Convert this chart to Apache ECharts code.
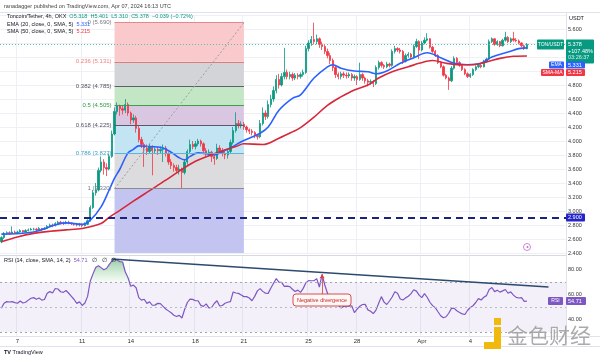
<!DOCTYPE html>
<html><head><meta charset="utf-8">
<script src="https://cdn.jsdelivr.net/npm/echarts@6/dist/echarts.min.js"></script>
<style>html,body{margin:0;padding:0;background:#fff}#c{width:600px;height:359px}</style>
</head><body><div id="c"></div>
<script>
// ---------- data ----------
const startUTC = Date.UTC(2024, 2, 6, 0, 0);   // first 4h candle: Mar 6 00:00 UTC
const slotCount = 210;                          // candle slots incl. right-side empty space
const tickDays = ['2024-03-07','2024-03-11','2024-03-14','2024-03-18','2024-03-21','2024-03-25','2024-03-28','2024-04-01','2024-04-04'];
const tickLabels = ['7','11','14','18','21','25','28','Apr','4'];

const opens = [
2.56,2.62,2.68,2.69,2.68,2.70,2.69,2.70,2.72,2.70,
2.72,2.73,2.74,2.74,2.73,2.75,2.74,2.75,2.78,2.80,
2.79,2.82,2.84,2.83,2.82,2.84,2.83,2.82,2.81,2.80,
2.81,2.79,2.81,2.86,3.05,3.26,3.30,3.58,3.70,3.62,
3.60,3.78,4.10,4.42,4.50,4.46,4.44,4.52,4.40,4.30,
4.33,4.18,4.02,3.95,3.90,3.85,3.92,3.86,3.88,3.86,
3.88,3.90,3.82,3.70,3.65,3.62,3.58,3.60,3.55,3.70,
3.85,3.95,3.92,3.96,4.00,3.96,3.86,3.82,3.84,3.78,
3.75,3.90,3.86,3.82,3.80,3.85,3.98,4.15,4.25,4.22,
4.24,4.20,4.16,4.14,4.12,4.08,4.06,4.25,4.40,4.35,
4.52,4.60,4.72,4.88,4.80,4.92,4.98,4.92,4.95,4.90,
4.94,4.92,4.95,4.98,5.32,5.40,5.45,5.42,5.46,5.38,
5.35,5.28,5.22,5.15,5.05,4.95,4.92,4.96,4.94,4.93,
4.95,4.90,4.92,4.88,4.95,4.90,4.86,4.84,4.85,4.82,
5.05,5.12,5.08,5.06,5.10,5.08,5.28,5.32,5.30,5.28,
5.14,5.22,5.24,5.20,5.35,5.42,5.30,5.40,5.44,5.46,
5.34,5.28,5.22,5.12,5.06,4.94,4.90,4.86,5.04,5.18,
5.12,5.08,5.02,4.96,4.92,4.95,5.02,5.06,5.08,5.06,
5.14,5.17,5.42,5.46,5.38,5.42,5.36,5.44,5.48,5.42,
5.46,5.44,5.43,5.40,5.36,5.318];
const closes = [
2.62,2.68,2.69,2.68,2.70,2.69,2.70,2.72,2.70,2.72,
2.73,2.74,2.74,2.73,2.75,2.74,2.75,2.78,2.80,2.79,
2.82,2.84,2.83,2.82,2.84,2.83,2.82,2.81,2.80,2.81,
2.79,2.81,2.86,3.05,3.26,3.30,3.58,3.70,3.62,3.60,
3.78,4.10,4.42,4.50,4.46,4.44,4.52,4.40,4.30,4.33,
4.18,4.02,3.95,3.90,3.85,3.92,3.86,3.88,3.86,3.88,
3.90,3.82,3.70,3.65,3.62,3.58,3.60,3.55,3.70,3.85,
3.95,3.92,3.96,4.00,3.96,3.86,3.82,3.84,3.78,3.75,
3.90,3.86,3.82,3.80,3.85,3.98,4.15,4.25,4.22,4.24,
4.20,4.16,4.14,4.12,4.08,4.06,4.25,4.40,4.35,4.52,
4.60,4.72,4.88,4.80,4.92,4.98,4.92,4.95,4.90,4.94,
4.92,4.95,4.98,5.32,5.40,5.45,5.42,5.46,5.38,5.35,
5.28,5.22,5.15,5.05,4.95,4.92,4.96,4.94,4.93,4.95,
4.90,4.92,4.88,4.95,4.90,4.86,4.84,4.85,4.82,5.05,
5.12,5.08,5.06,5.10,5.08,5.28,5.32,5.30,5.28,5.14,
5.22,5.24,5.20,5.35,5.42,5.30,5.40,5.44,5.46,5.34,
5.28,5.22,5.12,5.06,4.94,4.90,4.86,5.04,5.18,5.12,
5.08,5.02,4.96,4.92,4.95,5.02,5.06,5.08,5.06,5.14,
5.17,5.42,5.46,5.38,5.42,5.36,5.44,5.48,5.42,5.46,
5.44,5.43,5.40,5.36,5.32,5.378];
const highs = [
2.64,2.70,2.71,2.71,2.78,2.72,2.72,2.74,2.73,2.74,
2.75,2.76,2.76,2.76,2.77,2.76,2.77,2.80,2.82,2.82,
2.84,2.86,2.86,2.85,2.86,2.86,2.84,2.83,2.83,2.83,
2.82,2.84,2.88,3.08,3.30,3.40,3.62,3.78,3.74,3.68,
3.82,4.15,4.48,4.55,4.52,4.50,4.60,4.55,4.42,4.38,
4.36,4.22,4.06,3.98,3.95,3.96,3.94,3.93,3.92,3.92,
3.95,3.93,3.84,3.74,3.68,3.66,3.66,3.62,3.74,3.88,
4.02,4.00,4.00,4.03,4.02,3.98,3.90,3.88,3.86,3.80,
3.96,3.94,3.90,3.86,3.88,4.02,4.20,4.41,4.30,4.28,
4.27,4.22,4.18,4.17,4.14,4.10,4.30,4.48,4.44,4.58,
4.66,4.78,4.94,4.96,4.97,5.33,5.02,4.99,4.98,4.97,
4.97,4.98,5.02,5.36,5.44,5.50,5.69,5.52,5.48,5.42,
5.38,5.32,5.26,5.18,5.08,4.98,4.99,4.99,4.98,4.98,
4.97,4.95,4.94,5.12,4.97,4.92,4.89,4.88,4.87,5.08,
5.15,5.14,5.10,5.13,5.12,5.31,5.36,5.34,5.33,5.30,
5.25,5.27,5.26,5.38,5.46,5.44,5.43,5.48,5.54,5.47,
5.36,5.30,5.24,5.14,5.08,4.96,4.92,5.07,5.21,5.20,
5.14,5.10,5.04,4.98,4.97,5.04,5.08,5.11,5.10,5.16,
5.19,5.45,5.48,5.47,5.44,5.43,5.46,5.56,5.50,5.48,
5.56,5.47,5.45,5.41,5.38,5.401];
const lows = [
2.54,2.60,2.66,2.66,2.67,2.68,2.68,2.69,2.69,2.69,
2.71,2.72,2.72,2.71,2.72,2.72,2.73,2.74,2.77,2.77,
2.78,2.81,2.81,2.80,2.81,2.81,2.80,2.79,2.78,2.78,
2.77,2.78,2.80,2.85,3.03,3.22,3.28,3.55,3.52,3.50,
3.58,3.76,4.08,4.38,4.36,4.38,4.40,4.36,4.24,4.26,
4.12,3.98,3.90,3.63,3.80,3.82,3.51,3.82,3.80,3.82,
3.70,3.78,3.66,3.60,3.56,3.54,3.52,3.33,3.52,3.66,
3.82,3.88,3.88,3.93,3.92,3.82,3.78,3.78,3.70,3.66,
3.73,3.83,3.78,3.74,3.75,3.82,3.95,4.12,4.18,4.18,
4.16,4.12,4.10,4.08,4.04,4.02,4.04,4.22,4.30,4.32,
4.48,4.56,4.68,4.75,4.78,4.88,4.88,4.88,4.86,4.87,
4.88,4.89,4.92,4.96,5.28,5.36,5.38,5.38,5.33,5.30,
5.24,5.18,5.10,5.00,4.90,4.88,4.88,4.90,4.89,4.90,
4.86,4.86,4.80,4.86,4.86,4.82,4.78,4.80,4.77,4.80,
5.02,5.05,5.03,5.04,5.05,5.06,5.25,5.27,5.25,5.10,
5.12,5.19,5.17,5.18,5.33,5.17,5.28,5.38,5.42,5.32,
5.26,5.20,5.10,5.04,4.92,4.88,4.73,4.84,5.02,5.10,
5.06,5.00,4.94,4.90,4.90,4.93,5.00,5.04,5.04,5.05,
5.12,5.16,5.40,5.36,5.36,5.34,5.35,5.42,5.40,5.40,
5.42,5.41,5.38,5.34,5.30,5.310];

// EMA(20) and SMA(50): [candle index, value]
const emaPoints = [[0,2.67],[12,2.70],[24,2.83],[30,2.81],[33,2.87],[37,3.06],[40,3.30],[42,3.47],[44,3.60],[47,3.83],[49,3.88],[51,3.93],[55,3.92],[59,3.91],[63,3.84],[66,3.76],[68,3.73],[70,3.78],[73,3.83],[76,3.82],[79,3.80],[82,3.85],[85,3.90],[89,3.99],[92,4.04],[96,4.11],[99,4.20],[103,4.44],[108,4.61],[111,4.66],[116,4.90],[121,5.06],[123,5.09],[126,5.04],[131,5.00],[136,4.99],[139,4.96],[143,5.00],[148,5.11],[153,5.19],[158,5.26],[163,5.19],[168,5.11],[173,5.09],[178,5.11],[182,5.20],[188,5.27],[192,5.32],[195,5.331]];
const smaPoints = [[0,2.56],[6,2.63],[12,2.68],[18,2.71],[24,2.73],[30,2.75],[37,2.82],[40,2.91],[44,3.01],[49,3.14],[55,3.29],[61,3.44],[66,3.57],[72,3.71],[77,3.79],[82,3.86],[87,3.92],[90,3.96],[97,3.95],[103,4.04],[108,4.13],[111,4.19],[116,4.34],[121,4.51],[126,4.63],[131,4.73],[136,4.80],[140,4.90],[145,4.99],[151,5.06],[155,5.11],[160,5.15],[165,5.11],[170,5.09],[175,5.09],[180,5.13],[185,5.18],[190,5.21],[195,5.215]];

const rsiValues = [
49,53,54.3,54,54.3,53.5,53,54.8,53.2,53.8,
55.5,57,57.5,56.2,57.2,55.5,56,61,62.3,61.2,
64.8,64.4,62.2,61.7,63.2,61,58.5,56,52.9,54.1,
51.2,53.2,58.5,70.8,76.5,81.6,83,81.5,79.8,80.8,
83.9,86.8,88.1,87.4,86.3,86,78,73.4,66.6,67.5,
65.4,57.5,55.5,56.2,52.9,54.1,51.4,51.5,52.9,52.7,
50.5,48.4,46.9,45.4,43.4,42.4,43.3,41.2,48,53.6,
56.3,56.1,55,55,51.3,50.5,52.5,49.3,49.6,52.8,
55,50.8,51.2,53,53.8,54.3,62,61.2,60.9,59.6,
58.3,58.3,57.2,55,58.5,62.9,64.7,62.5,61,60.9,
65.2,69,72.7,69.9,69.7,66.5,66.7,66.3,64.2,62.4,
63.5,61.7,64.9,69.4,71.1,71,71,72.7,66,76,
67.6,61,56.4,53.7,52.6,51.5,49.3,50.4,50.9,50.7,
51,45.5,48.3,50.6,52,52.1,47.7,46.6,44.7,47.5,
53,58.3,53.9,52,54.8,58,62.2,61,56.4,55.6,
57.3,58.6,60.7,63.8,62.7,59.5,57.5,60.7,57.8,53.8,
51.1,49.5,46.2,43,41.4,42.2,45,48.9,48.9,47,
45.6,44.5,44,47.4,49.6,51,53.6,56.7,55.6,57.8,
59.1,64,65.6,62.3,63.4,61.9,62.9,64,61,62.1,
59.5,57.7,57.2,57.5,54.5,54.71];

const fibLevels = ['0','0.236','0.382','0.5','0.618','0.786','1'];
const fibPrices = [5.690,5.131,4.785,4.505,4.225,3.827,3.320];
const lastPrice = 5.378;
const supportLevel = 2.900;
const rsiLast = 54.71;

// ---------- styling ----------
const FONT = '"Liberation Sans", Arial, sans-serif';
const UP = '#089981', DOWN = '#f23645';
const fibFill = ['#f9c9cc','#d3d4d7','#c3e7c4','#d9c7e2','#c2e4f3','#dcdcde','#c4c4f1'];
const fibLine = ['#e08a8f','#e07b7b','#5d606b','#3f9e4f','#5d5670','#5fb3d9','#8a8c94'];
const fibText = ['#787b86','#f08080','#50535e','#2e9b45','#50535e','#3aa0c8','#787b86'];
const fibX0 = 42, fibX1 = 90;     // fib drawing span (candle indices)

// ---------- categories ----------
const categories = [], labelAt = {};
for (let i = 0; i < slotCount; i++) {
  const d = new Date(startUTC + i * 4 * 3600 * 1000);
  categories.push(d.toISOString().slice(0, 16));
  if (d.getUTCHours() === 0) {
    const k = tickDays.indexOf(d.toISOString().slice(0, 10));
    if (k >= 0) labelAt[i] = tickLabels[k];
  }
}
const showTick = (idx) => labelAt[idx] !== undefined;
const candleData = closes.map((c, i) => [opens[i], c, lows[i], highs[i]]);
const obFill = rsiValues.map((v, i) => (i >= 33 && i <= 47) ? v : null);

// fib marks
const fibAreas = [];
const fibLines = [];
for (let k = 0; k < fibPrices.length; k++) {
  const bottom = k < fibPrices.length - 1 ? fibPrices[k + 1] : 2.4;
  fibAreas.push([{ coord: [fibX0, fibPrices[k]], itemStyle: { color: fibFill[k] } }, { coord: [fibX1, bottom] }]);
  fibLines.push([{ coord: [fibX0, fibPrices[k]], lineStyle: { color: fibLine[k], width: 1, type: 'solid' },
    label: { show: true, position: 'start', distance: 3, formatter: fibLevels[k] + ' (' + fibPrices[k].toFixed(3) + ')',
      color: fibText[k], fontSize: 6, fontFamily: FONT } }, { coord: [fibX1, fibPrices[k]] }]);
}
fibLines.push([{ coord: [fibX0, fibPrices[6]], lineStyle: { color: '#9e9e9e', width: 1, type: [2, 2] }, label: { show: false } }, { coord: [fibX1, fibPrices[0]] }]);

// ---------- text helpers ----------
const mctx = document.createElement('canvas').getContext('2d');
function seq(x, y, parts, size) {
  const out = []; let cx = x;
  parts.forEach(([t, c, bold]) => {
    const f = (bold ? 'bold ' : '') + size + 'px ' + FONT;
    mctx.font = f;
    out.push({ type: 'text', z: 100, style: { text: t, x: cx, y: y, fill: c, font: f, verticalAlign: 'middle' } });
    cx += mctx.measureText(t).width;
  });
  return out;
}
function box(x, y, w, h, color, lines, size, align) {
  const g = [{ type: 'rect', z: 100, shape: { x: x, y: y, width: w, height: h, r: 1 }, style: { fill: color } }];
  lines.forEach(([t, c, dy]) => {
    g.push({ type: 'text', z: 101, style: { text: t, x: align === 'center' ? x + w / 2 : x + 2, y: y + dy, fill: c, font: size + 'px ' + FONT, align: align || 'left', verticalAlign: 'middle' } });
  });
  return g;
}

const graphics = [].concat(
  // frame lines
  [{ type: 'line', z: 50, shape: { x1: 0, y1: 12.5, x2: 600, y2: 12.5 }, style: { stroke: '#e0e3eb', lineWidth: 1 } },
   { type: 'line', z: 50, shape: { x1: 0, y1: 255.5, x2: 566, y2: 255.5 }, style: { stroke: '#d6d9e0', lineWidth: 1 } },
   { type: 'line', z: 50, shape: { x1: 0, y1: 336.5, x2: 600, y2: 336.5 }, style: { stroke: '#e0e3eb', lineWidth: 1 } },
   { type: 'line', z: 50, shape: { x1: 0, y1: 346.5, x2: 600, y2: 346.5 }, style: { stroke: '#e0e3eb', lineWidth: 1 } },
   { type: 'line', z: 50, shape: { x1: 566.5, y1: 12.5, x2: 566.5, y2: 346.5 }, style: { stroke: '#e0e3eb', lineWidth: 1 } }],
  seq(4, 6, [['ranadagger published on TradingView.com, Apr 07, 2024 16:13 UTC', '#444']], 5.5),
  seq(7, 16.5, [['Toncoin/Tether, 4h, OKX  ', '#131722'], ['O5.318  H5.401  L5.310  C5.378  \u22120.039 (\u22120.72%)', UP]], 5.5),
  seq(7, 24, [['EMA (20, close, 0, SMA, 5)  ', '#131722'], ['5.331', '#2962ff']], 5.5),
  seq(7, 31.5, [['SMA (50, close, 0, SMA, 5)  ', '#131722'], ['5.215', DOWN]], 5.5),
  seq(4, 260, [['RSI (14, close, SMA, 14, 2)  ', '#131722'], ['54.71', '#7e57c2'], ['   \u2205   \u2205   \u2205', '#131722']], 5.5),
  seq(569, 18.5, [['USDT', '#131722']], 5.5),
  box(537, 39.5, 27, 10, UP, [['TON/USDT', '#fff', 5]], 5, 'center'),
  box(566, 39.5, 28, 24, UP, [['5.378', '#fff', 5], ['+107.48%', '#fff', 11.5], ['03:26:37', '#d6f2ec', 18]], 5.5),
  box(549, 61.5, 15, 7, '#2962ff', [['EMA', '#fff', 3.5]], 5, 'center'),
  box(566, 61.5, 19, 7, '#2962ff', [['5.331', '#fff', 3.5]], 5.5),
  box(541, 69, 23, 7, DOWN, [['SMA-MA', '#fff', 3.5]], 5, 'center'),
  box(566, 69, 19, 7, DOWN, [['5.215', '#fff', 3.5]], 5.5),
  box(566, 213.5, 19, 8, '#2424c8', [['2.900', '#fff', 4]], 5.5),
  box(548, 297, 15, 8, '#7e57c2', [['RSI', '#fff', 4]], 5, 'center'),
  box(566, 297, 20, 8, '#7e57c2', [['54.71', '#fff', 4]], 5.5),
  [{ type: 'rect', z: 100, shape: { x: 293, y: 294, width: 58, height: 12, r: 3 }, style: { fill: '#fff6f6', stroke: '#c62828', lineWidth: 0.8 } },
   { type: 'text', z: 101, style: { text: 'Negative divergence', x: 322, y: 300, fill: '#c62828', font: '5.5px ' + FONT, align: 'center', verticalAlign: 'middle' } },
   { type: 'circle', z: 100, shape: { cx: 527, cy: 247, r: 3.5 }, style: { fill: '#fff', stroke: '#c06ac6', lineWidth: 0.8 } },
   { type: 'circle', z: 101, shape: { cx: 527.5, cy: 247, r: 1 }, style: { fill: '#c06ac6' } }],
  seq(4, 352, [['TV ', '#131722', true], ['TradingView', '#131722']], 5.5),
  // watermark
  [{ type: 'rect', z: 110, shape: { x: 494, y: 318, width: 7, height: 7 }, style: { fill: '#f0b90b' } },
   { type: 'rect', z: 110, shape: { x: 494, y: 327, width: 7, height: 22 }, style: { fill: '#f0b90b' } },
   { type: 'rect', z: 110, shape: { x: 484, y: 342, width: 10, height: 7 }, style: { fill: '#f0b90b' } },
   { type: 'text', z: 110, style: { text: '金色财经', x: 507, y: 335, fill: 'rgba(150,150,150,0.8)', stroke: 'rgba(255,255,255,0.6)', lineWidth: 1, font: '21px "Noto Sans CJK SC"', verticalAlign: 'middle' } }]
);

// ---------- chart ----------
const chart = echarts.init(document.getElementById('c'), null, { width: 600, height: 359 });
const gridLine = { color: '#eef0f5', width: 1 };
chart.setOption({
  animation: false,
  backgroundColor: '#fff',
  textStyle: { fontFamily: FONT },
  grid: [
    { left: 0, right: 34, top: 15, height: 238 },
    { left: 0, right: 34, top: 256, height: 80 }
  ],
  xAxis: [
    { type: 'category', gridIndex: 0, data: categories, boundaryGap: true,
      axisLine: { show: false }, axisTick: { show: false }, axisLabel: { show: false },
      splitLine: { show: true, interval: showTick, lineStyle: gridLine } },
    { type: 'category', gridIndex: 1, data: categories, boundaryGap: true,
      axisLine: { show: false }, axisTick: { show: false },
      axisLabel: { interval: showTick, formatter: (v, i) => labelAt[i] || '', fontSize: 6, color: '#333', margin: 2 },
      splitLine: { show: true, interval: showTick, lineStyle: gridLine } }
  ],
  yAxis: [
    { type: 'value', gridIndex: 0, position: 'right', min: 2.4, max: 5.8, interval: 0.2,
      axisLine: { show: false }, axisTick: { show: false },
      axisLabel: { fontSize: 5.5, color: '#333', margin: 2, formatter: v => Math.abs(v - 5.8) < 1e-6 ? '' : v.toFixed(3) },
      splitLine: { show: true, lineStyle: gridLine } },
    { type: 'value', gridIndex: 1, position: 'right', min: 26.8, max: 90.8,
      axisLine: { show: false }, axisTick: { show: false },
      axisLabel: { fontSize: 5.5, color: '#333', margin: 2, customValues: [40, 60, 80], formatter: v => v.toFixed(2) },
      splitLine: { show: false } }
  ],
  series: [
    { type: 'line', name: 'fib', xAxisIndex: 0, yAxisIndex: 0, data: [], z: 1, silent: true,
      markArea: { silent: true, data: fibAreas },
      markLine: { silent: true, symbol: ['none', 'none'], data: fibLines } },
    { type: 'candlestick', name: 'TON/USDT', xAxisIndex: 0, yAxisIndex: 0, data: candleData, z: 3,
      barWidth: '68%',
      itemStyle: { color: UP, color0: DOWN, borderColor: UP, borderColor0: DOWN, borderWidth: 0.8 },
      markLine: { silent: true, symbol: ['none', 'none'], label: { show: false },
        data: [
          { yAxis: supportLevel, lineStyle: { color: '#1a237e', width: 2, type: [7, 5] } },
          { yAxis: lastPrice, lineStyle: { color: '#5fbfae', width: 1, type: [1, 2] } }
        ] } },
    { type: 'line', name: 'EMA', xAxisIndex: 0, yAxisIndex: 0, data: emaPoints, smooth: 0.35, showSymbol: false, z: 4,
      lineStyle: { color: '#2962ff', width: 1.6 } },
    { type: 'line', name: 'SMA', xAxisIndex: 0, yAxisIndex: 0, data: smaPoints, smooth: 0.35, showSymbol: false, z: 4,
      lineStyle: { color: '#d6283a', width: 1.6 } },
    { type: 'line', name: 'RSI-OB', xAxisIndex: 1, yAxisIndex: 1, data: obFill, showSymbol: false, z: 2,
      lineStyle: { width: 0, opacity: 0 },
      areaStyle: { origin: 70, color: new echarts.graphic.LinearGradient(0, 0, 0, 1, [
        { offset: 0, color: 'rgba(56,160,80,0.75)' }, { offset: 1, color: 'rgba(120,200,130,0.1)' }]) } },
    { type: 'line', name: 'RSI', xAxisIndex: 1, yAxisIndex: 1, data: rsiValues, showSymbol: false, z: 3,
      lineStyle: { color: '#7e57c2', width: 1.2 },
      markArea: { silent: true, itemStyle: { color: 'rgba(126,87,194,0.09)' }, data: [[{ yAxis: 70 }, { yAxis: 30 }]] },
      markLine: { silent: true, symbol: ['none', 'none'], label: { show: false },
        data: [
          { yAxis: 70, lineStyle: { color: '#a3a6af', width: 1, type: [2, 3] } },
          { yAxis: 50, lineStyle: { color: '#b8bac2', width: 1, type: [2, 3] } },
          { yAxis: 30, lineStyle: { color: '#a3a6af', width: 1, type: [2, 3] } },
          [{ coord: [41, 88.4], lineStyle: { color: '#2c4a6e', width: 1.6, type: 'solid' } }, { coord: [203, 66] }],
          [{ coord: [119, 60.4], symbol: 'none', lineStyle: { color: '#e53935', width: 0.8, type: 'solid' } }, { coord: [119, 76], symbol: 'arrow', symbolSize: 4 }]
        ] } }
  ],
  graphic: graphics
});
</script>
</body></html>
